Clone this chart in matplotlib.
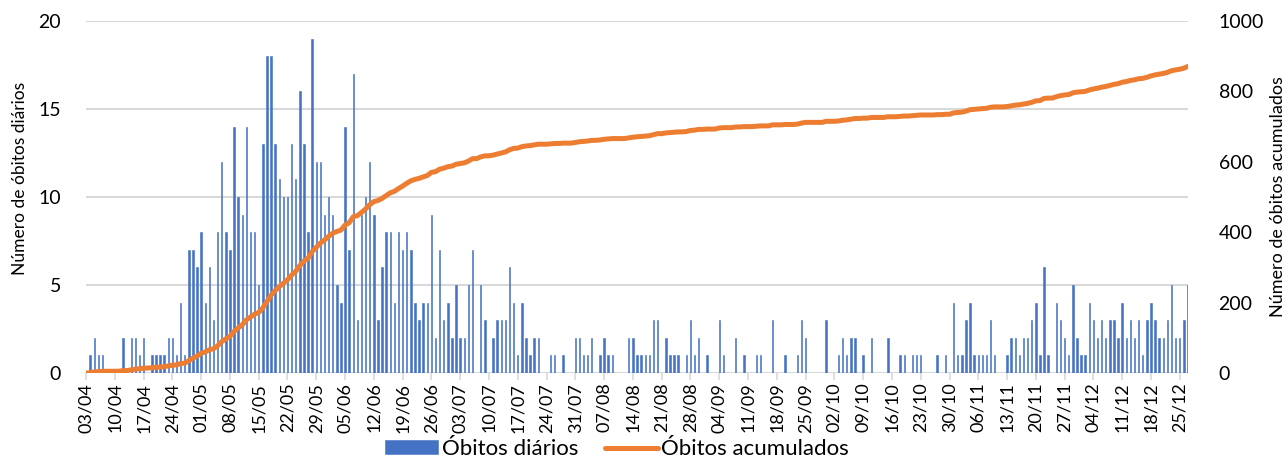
import numpy as np
import pandas as pd
import matplotlib
matplotlib.use("Agg")
import matplotlib.pyplot as plt

plt.rcParams['font.family'] = ['Lato', 'DejaVu Sans']

# daily deaths, one value per day starting 03/04/2020
obitos_diarios = [
    0, 1, 2, 1, 1, 0, 0, 0, 0, 2, 0, 2, 2, 1, 2, 0, 1, 1, 1, 1,
    2, 2, 1, 4, 1, 7, 7, 6, 8, 4, 6, 3, 8, 12, 8, 7, 14, 10, 9, 14,
    8, 8, 5, 13, 18, 18, 13, 11, 10, 10, 13, 11, 16, 13, 8, 19, 12, 12, 9, 10,
    9, 5, 4, 14, 7, 17, 3, 9, 10, 12, 9, 3, 6, 8, 8, 4, 8, 7, 8, 7,
    4, 3, 4, 4, 9, 2, 7, 3, 4, 2, 5, 2, 2, 5, 7, 0, 5, 3, 0, 2,
    3, 3, 3, 6, 4, 1, 4, 2, 1, 2, 2, 0, 0, 1, 1, 0, 1, 0, 0, 2,
    2, 1, 1, 2, 0, 1, 2, 1, 1, 0, 0, 0, 2, 2, 1, 1, 1, 1, 3, 3,
    0, 2, 1, 1, 1, 0, 1, 3, 1, 2, 0, 1, 0, 0, 3, 1, 0, 0, 2, 0,
    1, 0, 0, 1, 1, 0, 0, 3, 0, 0, 1, 0, 0, 1, 3, 2, 0, 0, 0, 0,
    3, 0, 0, 1, 2, 1, 2, 2, 0, 1, 0, 2, 0, 0, 0, 2, 0, 0, 1, 1,
    0, 1, 1, 1, 0, 0, 0, 1, 0, 1, 0, 4, 1, 1, 3, 4, 1, 1, 1, 1,
    3, 1, 0, 0, 1, 2, 2, 1, 2, 2, 3, 4, 1, 6, 1, 0, 4, 3, 2, 1,
    5, 2, 1, 1, 4, 3, 2, 3, 2, 3, 3, 2, 4, 2, 3, 2, 3, 1, 3, 4,
    3, 2, 2, 3, 5, 2, 2, 3, 5,
]
datas = pd.date_range('2020-04-03', periods=len(obitos_diarios), freq='D')
obitos_acumulados = np.cumsum(obitos_diarios)

azul = '#4472C4'
laranja = '#ED7D31'
cinza = '#D9D9D9'

fig = plt.figure(figsize=(12.88, 4.57), dpi=100)
ax = fig.add_axes([86 / 1288, 1 - 373 / 457, 1102 / 1288, 352 / 457])
ax2 = ax.twinx()

x = np.arange(len(datas))
ax.bar(x, obitos_diarios, width=0.35, color=azul, edgecolor=azul, linewidth=0.4,
       label='Óbitos diários', zorder=2)
ax2.plot(x, obitos_acumulados, color=laranja, lw=3.6, solid_capstyle='round',
         label='Óbitos acumulados')

ax.set_xlim(0, len(datas) - 1)
ax.set_ylim(0, 20)
ax.set_yticks([0, 5, 10, 15, 20])
ax2.set_ylim(0, 1000)
ax2.set_yticks(range(0, 1001, 200))

ticks = x[::7]
ax.set_xticks(ticks)
ax.set_xticklabels([d.strftime('%d/%m') for d in datas[::7]], rotation=90, fontsize=13)

ax.grid(axis='y', color=cinza, lw=1.5, zorder=0)
ax.set_axisbelow(True)
for a in (ax, ax2):
    for s in ['top', 'left', 'right', 'bottom']:
        a.spines[s].set_visible(False)
ax.axhline(0, color=cinza, lw=1.5, zorder=1)

ax.tick_params(axis='y', length=0, labelsize=14, pad=18)
ax2.tick_params(axis='y', length=0, labelsize=14, pad=22)
ax.tick_params(axis='x', length=5, width=1.2, color=cinza, pad=2)

fig.text(20 / 1288, 1 - 178 / 457, 'Número de óbitos diários', rotation=90,
         ha='center', va='center', fontsize=12.5)
fig.text(1278 / 1288, 1 - 197 / 457, 'Número de óbitos acumulados', rotation=90,
         ha='center', va='center', fontsize=13)

h1, l1 = ax.get_legend_handles_labels()
h2, l2 = ax2.get_legend_handles_labels()
fig.legend(h1 + h2, l1 + l2, loc='center', bbox_to_anchor=(617 / 1288, 1 - 449 / 457),
           ncol=2, frameon=False, fontsize=16, handlelength=2.4, handleheight=0.6,
           handletextpad=0.15, columnspacing=1.2, borderpad=0, borderaxespad=0)

plt.savefig('out.png', dpi=100)
